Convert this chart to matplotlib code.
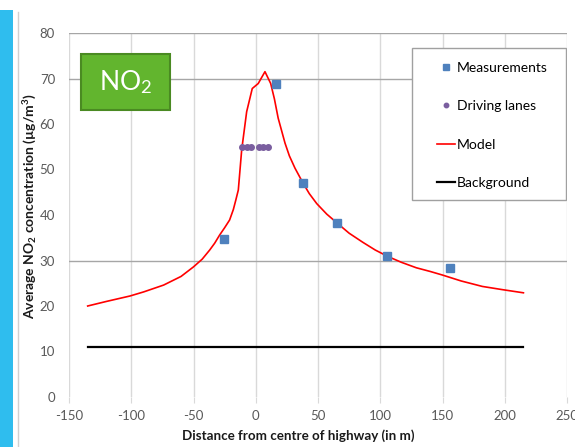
import matplotlib
matplotlib.use('Agg')
import matplotlib.pyplot as plt
from matplotlib.patches import Rectangle
from matplotlib.lines import Line2D

plt.rcParams['font.family'] = ['Lato', 'DejaVu Sans']
plt.rcParams['mathtext.fontset'] = 'custom'
plt.rcParams['mathtext.rm'] = 'Lato'
plt.rcParams['mathtext.it'] = 'Lato:italic'
plt.rcParams['mathtext.bf'] = 'Lato:bold'
plt.rcParams['axes.unicode_minus'] = False

# model curve (distance in m, NO2 in ug/m3)
model_x = [-135, -120, -101, -90, -74, -60, -50, -43, -37, -33, -29, -25, -21, -18, -16, -14,
           -11.3, -7.3, -2.8, 2, 7.4, 12, 15, 18, 20.5, 23.5, 27, 31.5, 38, 43, 49, 57,
           65.5, 75, 86, 96, 106, 117, 129, 140, 150, 165, 182, 198, 215]
model_y = [20.0, 21.0, 22.2, 23.1, 24.6, 26.5, 28.6, 30.3, 32.3, 33.8, 35.6, 37.2, 38.9, 41.2, 43.3, 45.5,
           54.3, 62.7, 67.8, 68.9, 71.5, 68.9, 65.5, 61.3, 58.8, 55.8, 53.0, 50.3, 47.0, 44.7, 42.5, 40.2,
           38.2, 36.0, 34.0, 32.3, 30.9, 29.6, 28.4, 27.6, 26.8, 25.5, 24.3, 23.6, 22.9]

meas_x = [-25.3, 16.3, 38, 65.5, 105.7, 156.3]
meas_y = [34.7, 68.9, 47.0, 38.2, 30.9, 28.4]

lanes_x = [-10.8, -7.3, -3.8, 2.6, 6.1, 9.6]
lanes_y = [55, 55, 55, 55, 55, 55]

background_x = [-135, 215]
background_y = [11, 11]

xticks = [-150, -100, -50, 0, 50, 100, 150, 200, 250]
yticks = [0, 10, 20, 30, 40, 50, 60, 70, 80]
hgrid_levels = [30, 70, 80]

fig = plt.figure(figsize=(5.75, 4.47), dpi=100)
ax = fig.add_axes([69 / 575, 1 - 397 / 447, 498 / 575, 364 / 447])

# blue strip + frame line on the left edge (cropped screenshot leftovers)
fig.patches.append(Rectangle((0, 0), 13 / 575, 1 - 10 / 447, transform=fig.transFigure,
                             facecolor='#2fbdee', edgecolor='none'))
fig.lines.append(Line2D([18 / 575, 18 / 575], [0, 1 - 12 / 447], transform=fig.transFigure,
                        color='#d0d0d0', lw=1))

ax.set_xlim(-150, 250)
ax.set_ylim(0, 80)
ax.set_xticks(xticks)
ax.set_yticks(yticks)
for s in ax.spines.values():
    s.set_visible(False)

for x in xticks:
    ax.axvline(x, color='#d9d9d9', lw=1, zorder=0)
for y in hgrid_levels:
    ax.axhline(y, color='#a6a6a6', lw=1, zorder=0)

ax.tick_params(axis='x', length=4, color='#d9d9d9', labelsize=9.5, labelcolor='#595959', pad=5)
ax.tick_params(axis='y', length=0, labelsize=9.5, labelcolor='#595959', pad=10)

ax.plot(background_x, background_y, color='black', lw=1.6, label='Background', zorder=3)
ax.plot(model_x, model_y, color='#ff0000', lw=1.2, label='Model', zorder=3)
ax.plot(lanes_x, lanes_y, 'o', color='#7a5e9f', ms=4, label='Driving lanes', zorder=4)
ax.plot(meas_x, meas_y, 's', color='#4f81bd', ms=6, label='Measurements', zorder=4)

ax.set_xlabel('Distance from centre of highway (in m)', fontsize=9.6, fontweight='bold', color='#1a1a1a')
ax.xaxis.set_label_coords(0.46, -0.09)
ax.set_ylabel('Average NO$_\\mathbf{2}$ concentration (µg/m$^\\mathbf{3}$)', fontsize=10,
              fontweight='bold', color='#1a1a1a', va='center')
ax.yaxis.set_label_coords(-0.078, 0.525)

# NO2 label box
ax.add_patch(Rectangle((0.024, 0.788), 0.179, 0.154, transform=ax.transAxes,
                       facecolor='#62b52e', edgecolor='#4a8a22', lw=1.5, zorder=5))
ax.text(0.1135, 0.865, 'NO$_2$', transform=ax.transAxes, fontsize=19, color='white',
        ha='center', va='center', zorder=6)

# legend box
ax.add_patch(Rectangle((0.689, 0.541), 0.309, 0.418, transform=ax.transAxes,
                       facecolor='white', edgecolor='#a0a0a0', lw=1, zorder=5))
handles, labels = ax.get_legend_handles_labels()
order = [3, 2, 1, 0]
leg = ax.legend([handles[i] for i in order], [labels[i] for i in order],
                loc='upper left', bbox_to_anchor=(0.728, 0.936), frameon=False, fontsize=10,
                labelspacing=1.9, handlelength=1.3, handletextpad=0.1, markerscale=0.8,
                numpoints=1, borderaxespad=0)
leg.set_zorder(6)

fig.savefig('out.png', dpi=100)
